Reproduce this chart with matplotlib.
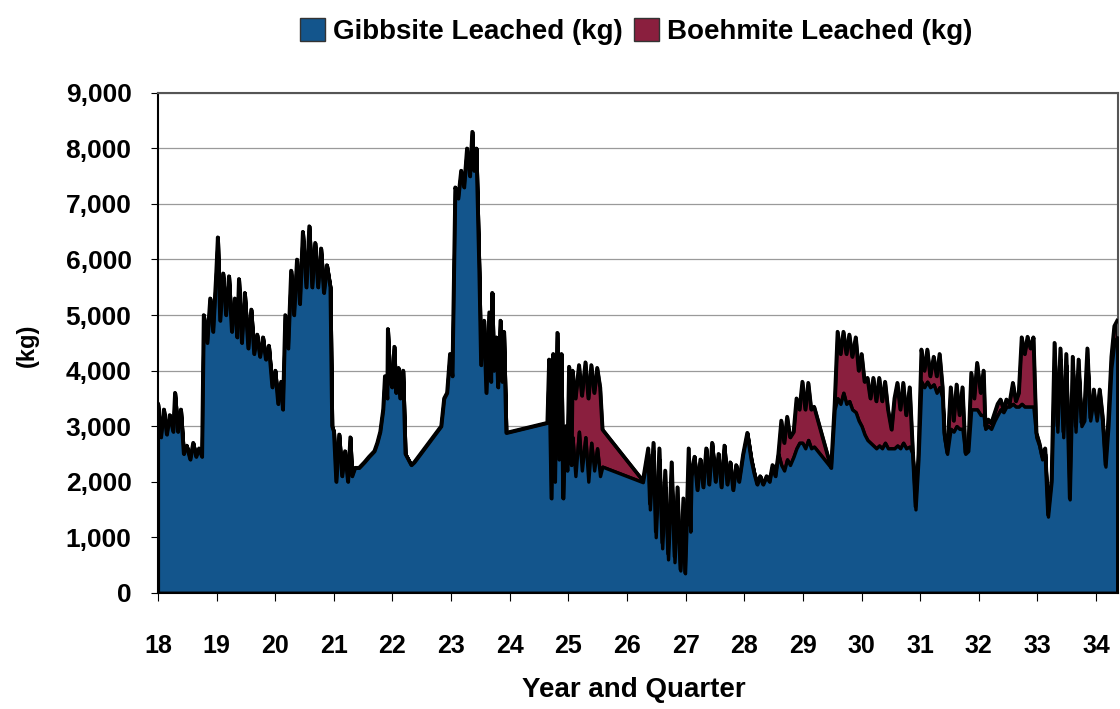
import matplotlib
matplotlib.use("Agg")
import matplotlib.pyplot as plt
from matplotlib.patches import Patch
import numpy as np

plt.rcParams['font.family'] = ['Liberation Sans', 'DejaVu Sans']

# 时间轴 (年.季度, 按图读取)
years = [
    18.00, 18.05, 18.10, 18.15, 18.20, 18.26, 18.29, 18.34, 18.39, 18.44, 18.49, 18.55, 18.60, 18.65, 18.70, 18.75,
    18.78, 18.84, 18.89, 18.94, 18.99, 19.02, 19.06, 19.11, 19.16, 19.21, 19.26, 19.31, 19.35, 19.38, 19.43, 19.48,
    19.54, 19.59, 19.64, 19.69, 19.74, 19.79, 19.84, 19.89, 19.95, 20.00, 20.05, 20.10, 20.13,
    20.17, 20.22, 20.27, 20.32, 20.37, 20.42, 20.47, 20.53, 20.58, 20.63, 20.68, 20.73, 20.78, 20.83, 20.88, 20.94, 20.97,
    21.00, 21.04, 21.09, 21.14, 21.19, 21.24, 21.28, 21.31, 21.36,
    21.43, 21.52, 21.60, 21.69, 21.74, 21.79, 21.84,
    21.87, 21.91, 21.92, 21.96, 21.99, 22.03, 22.06, 22.10, 22.13, 22.18, 22.22, 22.27, 22.32, 22.37,
    22.83, 22.88, 22.93, 22.98, 23.02, 23.07, 23.12, 23.17, 23.22, 23.27, 23.32, 23.36, 23.39, 23.43,
    23.48, 23.51, 23.56, 23.60, 23.65, 23.68, 23.70, 23.73, 23.77, 23.80, 23.84, 23.87, 23.90, 23.94,
    24.64, 24.67, 24.71, 24.74, 24.77, 24.81, 24.84, 24.88, 24.91, 24.95, 24.98, 25.01, 25.05,
    25.07, 25.12, 25.18, 25.23, 25.29, 25.34, 25.39, 25.44, 25.49, 25.54, 25.58,
    26.27,
    26.36, 26.39, 26.45, 26.49, 26.55, 26.60, 26.65, 26.70, 26.76, 26.81, 26.86, 26.91, 26.96, 26.99, 27.05, 27.08, 27.10,
    27.15, 27.20, 27.25, 27.30, 27.35, 27.40, 27.45, 27.51, 27.56, 27.61, 27.66, 27.71, 27.76, 27.81, 27.86, 27.91,
    27.98, 28.05, 28.12, 28.17, 28.22, 28.27, 28.32, 28.38, 28.43, 28.48, 28.53, 28.58,
    28.63, 28.68, 28.73, 28.78, 28.84,
    28.89, 28.94, 28.99, 29.04, 29.09, 29.14, 29.19, 29.48,
    29.54, 29.59, 29.64, 29.69, 29.74, 29.79, 29.84, 29.90, 29.95, 30.00, 30.05, 30.10, 30.15, 30.20, 30.25,
    30.30, 30.35, 30.40, 30.45, 30.51, 30.56, 30.61, 30.66, 30.71, 30.76, 30.82, 30.87, 30.92, 30.97, 31.02,
    31.07, 31.12, 31.17, 31.23, 31.28, 31.33, 31.38, 31.41, 31.46, 31.52, 31.57, 31.62, 31.67, 31.72, 31.77, 31.82,
    31.87, 31.92, 31.97, 32.03, 32.08, 32.11, 32.16, 32.21, 32.27, 32.32, 32.37, 32.42, 32.47, 32.52, 32.58, 32.63,
    32.68, 32.73, 32.78, 32.83, 32.88, 32.93, 32.98, 33.03, 33.08, 33.13, 33.18, 33.24,
    33.29, 33.34, 33.39, 33.44, 33.49, 33.55, 33.60, 33.65, 33.70, 33.75, 33.80, 33.85, 33.90, 33.96, 34.01, 34.06,
    34.11, 34.16, 34.21, 34.26, 34.31, 34.36,
]

# Gibbsite Leached (kg)
gibbsite = [
    3400, 2800, 3300, 2850, 3200, 2900, 3600, 2900, 3300, 2500, 2650, 2400, 2700, 2450, 2600, 2450,
    5000, 4500, 5300, 4700, 5700, 6400, 4900, 5750, 5000, 5700, 4700, 5300, 4600, 5650, 4500, 5400,
    4400, 5100, 4300, 4650, 4250, 4600, 4200, 4450, 3700, 4000, 3400, 3800, 3300,
    5000, 4400, 5800, 5000, 6000, 5200, 6500, 5500, 6600, 5500, 6300, 5500, 6200, 5400, 5900, 5500, 3000,
    2900, 2000, 2850, 2100, 2550, 2000, 2800, 2100, 2250,
    2250, 2350, 2450, 2550, 2700, 2900, 3300,
    3900, 3500, 4750, 3800, 3700, 4430, 3600, 4050, 3500, 4000, 2500, 2400, 2300, 2350,
    3000, 3500, 3600, 4300, 3900, 7300, 7100, 7600, 7300, 8000, 7500, 8300, 7600, 8000,
    5770, 4100, 4900, 3600, 5050, 3800, 5400, 4000, 4600, 3700, 4900, 3800, 4700, 2880,
    3060, 4200, 1700, 4300, 2000, 4680, 2400, 4300, 1700, 3000, 2200, 4070, 2300,
    2800, 2100, 2900, 2200, 2800, 2000, 2700, 2200, 2600, 2100, 2270,
    1990,
    2500, 1500, 2550, 1000, 2400, 800, 1900, 600, 2000, 550, 1500, 400, 1400, 350, 2400, 1100, 2100,
    2450, 1850, 2400, 1900, 2600, 1950, 2700, 2000, 2500, 1900, 2650, 1950, 2350, 1850, 2300, 2000,
    2500, 2880, 2400, 2150, 1950, 2100, 1950, 2100, 2000, 2300, 2100, 2500,
    2300, 2200, 2400, 2300, 2450,
    2600, 2700, 2700, 2600, 2750, 2600, 2630, 2250,
    3300, 3500, 3400, 3600, 3400, 3450, 3300, 3250, 3100, 3000, 2850, 2750, 2700, 2650, 2600,
    2650, 2600, 2700, 2600, 2600, 2600, 2650, 2600, 2700, 2600, 2630, 2500, 1500, 2400, 3800,
    3700, 3800, 3700, 3750, 3600, 3700, 3500, 2800, 2500, 2950, 2900, 3000, 2950, 2950, 2500, 2550,
    3300, 3300, 3300, 3200, 3200, 2950, 3000, 2950, 3100, 3200, 3300, 3250, 3350, 3350, 3400, 3350,
    3350, 3400, 3350, 3350, 3350, 3350, 2800, 2650, 2400, 2500, 1370, 2000,
    4300, 2900, 4200, 2800, 4100, 1680, 4050, 2900, 4000, 3000, 3100, 4200, 3100, 3500, 3100, 3500,
    3050, 2270, 3000, 4050, 4500, 4600,
]

# Boehmite Leached (kg)
boehmite = [
    0, 0, 0, 0, 0, 0, 0, 0, 0, 0, 0, 0, 0, 0, 0, 0,
    0, 0, 0, 0, 0, 0, 0, 0, 0, 0, 0, 0, 0, 0, 0, 0,
    0, 0, 0, 0, 0, 0, 0, 0, 0, 0, 0, 0, 0,
    0, 0, 0, 0, 0, 0, 0, 0, 0, 0, 0, 0, 0, 0, 0, 0, 0,
    0, 0, 0, 0, 0, 0, 0, 0, 0,
    0, 0, 0, 0, 0, 0, 0,
    0, 0, 0, 0, 0, 0, 0, 0, 0, 0, 0, 0, 0, 0,
    0, 0, 0, 0, 0, 0, 0, 0, 0, 0, 0, 0, 0, 0,
    0, 0, 0, 0, 0, 0, 0, 0, 0, 0, 0, 0, 0, 0,
    0, 0, 0, 0, 0, 0, 0, 0, 0, 0, 0, 0, 0,
    1200, 1400, 1200, 1350, 1350, 1500, 1400, 1400, 1450, 1600, 670,
    30,
    100, 100, 150, 100, 200, 100, 300, 100, 350, 100, 400, 20, 300, 10, 200, 100, 100,
    0, 0, 0, 0, 0, 0, 0, 0, 0, 0, 0, 0, 0, 0, 0, 0,
    0, 0, 0, 0, 0, 0, 0, 0, 0, 0, 0, 0,
    800, 500, 770, 500, 450,
    900, 600, 1100, 700, 1030, 700, 720, 0,
    100, 1200, 900, 1100, 900, 1200, 950, 1350, 900, 1300, 950, 1120, 800, 1220, 850,
    1220, 850, 1100, 700, 340, 900, 1130, 700, 1080, 600, 1070, 100, 50, 100, 580,
    300, 580, 200, 500, 300, 600, 200, 80, 20, 750, 200, 750, 250, 750, 20, 50,
    660, 200, 840, 400, 800, 50, 120, 100, 140, 200, 180, 50, 130, 50, 380, 100,
    250, 1200, 950, 1260, 1050, 1250, 80, 50, 50, 100, 30, 40,
    200, 100, 200, 100, 200, 20, 200, 100, 200, 60, 200, 200, 50, 160, 100, 160,
    120, 30, 170, 200, 300, 300,
]

x_ticks = list(range(18, 35))
y_ticks = [0, 1000, 2000, 3000, 4000, 5000, 6000, 7000, 8000, 9000]
y_ticklabels = ['0', '1,000', '2,000', '3,000', '4,000', '5,000', '6,000', '7,000', '8,000', '9,000']

blue = '#13558c'
red = '#8a1f3e'

x = np.array(years)
g = np.array(gibbsite)
total = g + np.array(boehmite)

fig = plt.figure(figsize=(11.2, 7.09), dpi=100)
ax = fig.add_axes([0.141, 0.164, 0.857, 0.705])

# 面积图, 黑色描边 (数据噪声很密, 描边连成黑带)
ax.fill_between(x, 0, g, facecolor=blue, edgecolor='black', linewidth=2.4, zorder=3)
ax.fill_between(x, g, total, facecolor=red, edgecolor='black', linewidth=2.4, zorder=2)
ax.plot(x, total, color='black', linewidth=2.6, zorder=4)

ax.set_xlim(18, 34.37)
ax.set_ylim(0, 9000)
ax.set_xticks(x_ticks)
ax.set_xticklabels([str(t) for t in x_ticks], fontsize=18, fontweight='bold')
ax.set_yticks(y_ticks)
ax.set_yticklabels(y_ticklabels, fontsize=19, fontweight='bold')
ax.tick_params(axis='x', direction='out', length=6, pad=24, colors='black')
ax.tick_params(axis='y', direction='out', length=5, pad=14, colors='black')

ax.yaxis.grid(True, color='#9a9a9a', linewidth=0.9)
ax.set_axisbelow(True)
for s in ['top', 'right']:
    ax.spines[s].set_color('#555555')
    ax.spines[s].set_linewidth(1.5)
for s in ['left', 'bottom']:
    ax.spines[s].set_color('black')
    ax.spines[s].set_linewidth(1.5)

fig.text(0.566, 0.027, 'Year and Quarter', ha='center', va='center', fontsize=20, fontweight='bold')
fig.text(0.024, 0.513, '(kg)', ha='center', va='center', rotation=90, fontsize=17, fontweight='bold')

handles = [Patch(facecolor=blue, edgecolor='#333333', label='Gibbsite Leached (kg)'),
           Patch(facecolor=red, edgecolor='#333333', label='Boehmite Leached (kg)')]
fig.legend(handles=handles, loc='center', bbox_to_anchor=(0.568, 0.955), ncol=2, frameon=False,
           prop={'size': 20, 'weight': 'bold'}, handlelength=0.9, handleheight=0.9,
           handletextpad=0.3, columnspacing=0.4)

fig.savefig('out.png', dpi=100)
